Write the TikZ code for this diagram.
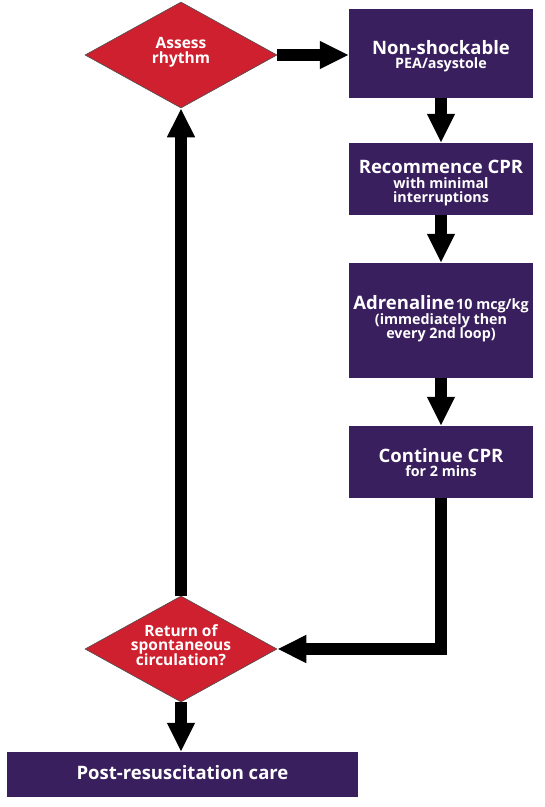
\documentclass[tikz,border=0pt]{standalone}
\usepackage{fontspec}
\setmainfont{Open Sans}
\usetikzlibrary{shapes.geometric,arrows.meta}
\definecolor{boxpurple}{HTML}{3A1F5E}
\definecolor{dred}{HTML}{CF2030}
\begin{document}
\begin{tikzpicture}[x=1pt,y=-1pt,
  pbox/.style={draw=none,fill=boxpurple,inner sep=0pt},
  dec/.style={diamond,draw=black!70,line width=0.6pt,fill=dred,inner sep=0pt,minimum width=192pt,minimum height=106pt},
  ttl/.style={anchor=base,text=white,inner sep=0pt,font=\fontsize{18.5}{18}\selectfont\bfseries},
  sub/.style={anchor=base,text=white,inner sep=0pt,font=\fontsize{14.3}{15}\selectfont\bfseries},
  dtxt/.style={anchor=base,text=white,inner sep=0pt,font=\fontsize{15.5}{15}\selectfont\bfseries},
  flow/.style={line width=11.5pt,-{Triangle[length=29pt,width=26pt]}},
  flowline/.style={line width=11.5pt}]
\useasboundingbox (0,0) rectangle (545,807);
\fill[white] (0,0) rectangle (545,807);

\node[dec] (d1) at (181,55) {};
\node[dtxt] (t1a) at (181,48) {Assess};
\node[dtxt] (t1b) at (181,63) {rhythm};

\node[pbox,minimum width=184pt,minimum height=89pt] (b1) at (441,53.5) {};
\node[ttl] (t2a) at (441,54) {Non-shockable};
\node[sub] (t2b) at (441,68) {PEA/asystole};

\node[pbox,minimum width=184pt,minimum height=72pt] (b2) at (441,179) {};
\node[ttl] (t3a) at (441,173) {Recommence CPR};
\node[sub] (t3b) at (441,188) {with minimal};
\node[sub] (t3c) at (441,202.5) {interruptions};

\node[pbox,minimum width=184pt,minimum height=115pt] (b3) at (441,320.5) {};
\node[anchor=base,text=white,inner sep=0pt] (t4a) at (441,309) {{\fontsize{18.5}{18}\selectfont\bfseries Adrenaline}\,{\fontsize{14.3}{15}\selectfont\bfseries 10 mcg/kg}};
\node[sub] (t4b) at (441,324) {(immediately then};
\node[sub] (t4c) at (441,338.5) {every 2nd loop)};

\node[pbox,minimum width=184pt,minimum height=72pt] (b4) at (441,462) {};
\node[ttl] (t5a) at (441,462) {Continue CPR};
\node[sub] (t5b) at (441,476.5) {for 2 mins};

\node[dec] (d2) at (181,649) {};
\node[dtxt] (t6a) at (181,636) {Return of};
\node[dtxt] (t6b) at (181,650.5) {spontaneous};
\node[dtxt] (t6c) at (181,665) {circulation?};

\node[pbox,minimum width=351pt,minimum height=45pt] (b5) at (182.5,774.5) {};
\node[ttl] (t7) at (182.5,779.5) {Post-resuscitation care};

\draw[flow] (d1.east) -- (d1.east -| b1.west);
\draw[flow] (b1.south) -- (b2.north);
\draw[flow] (b2.south) -- (b3.north);
\draw[flow] (b3.south) -- (b4.north);
\draw[flowline] (b4.south) -- (b4.south |- d2.east) -- ++(-25,0);
\draw[flow] ([xshift=-20pt]b4.south |- d2.east) -- (d2.east);
\draw[flow] (d2.north) -- (d1.south);
\draw[flow] (d2.south) -- (d2.south |- b5.north);
\end{tikzpicture}
\end{document}
